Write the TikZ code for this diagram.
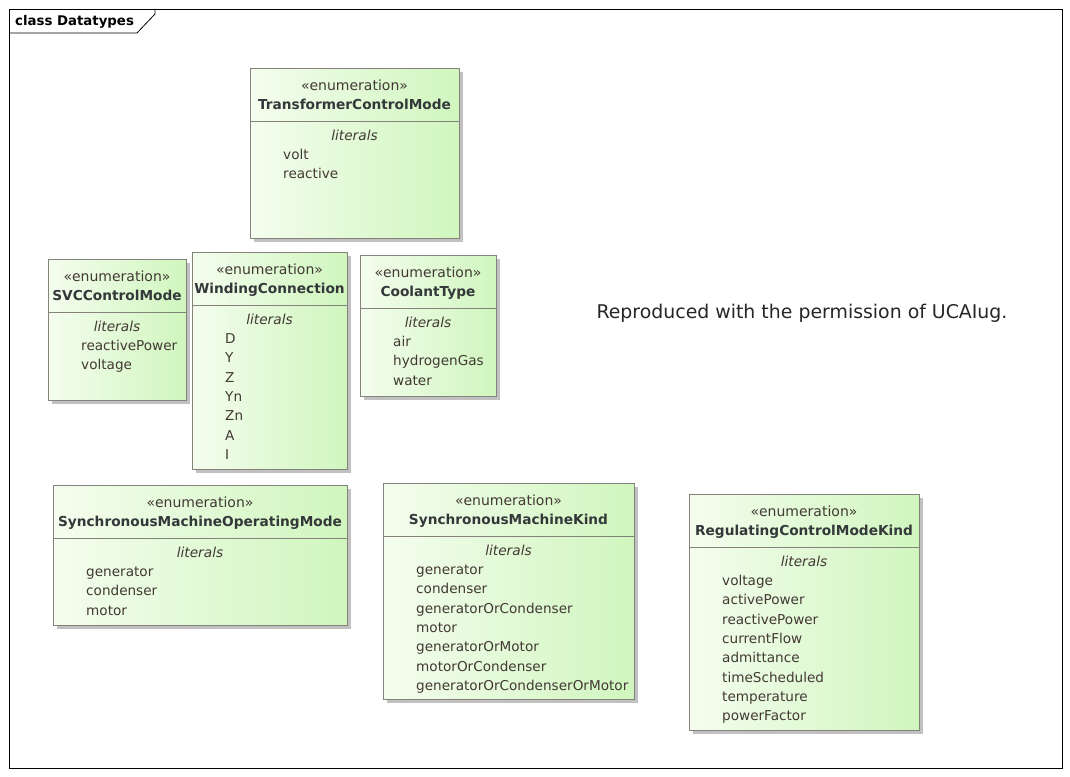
\documentclass[tikz,border=0pt]{standalone}
\usepackage{fontspec}
\setmainfont{DejaVu Sans}
\usepackage{xcolor}
\usepackage{tikz}
\usetikzlibrary{shadows}

\definecolor{umlleft}{RGB}{244,253,238}
\definecolor{umlright}{RGB}{208,246,190}
\definecolor{umlborder}{RGB}{132,130,122}
\definecolor{umltext}{RGB}{66,56,52}
\definecolor{umlname}{RGB}{52,56,58}

\tikzset{
  enumbox/.style={draw=umlborder, line width=0.8pt, left color=umlleft, right color=umlright,
    anchor=north west, inner sep=0pt, outer sep=0pt,
    drop shadow={shadow xshift=3.5pt, shadow yshift=-3.5pt, fill=black!30, opacity=0.8}},
  stereo/.style={text=umltext, inner sep=0pt, anchor=base, font=\fontsize{14}{16}\selectfont},
  enumname/.style={text=umlname, inner sep=0pt, anchor=base, font=\fontsize{13.7}{16}\selectfont\bfseries},
  litlabel/.style={text=umltext, inner sep=0pt, anchor=base, font=\fontsize{13.7}{16}\selectfont\itshape},
  literal/.style={text=umltext, inner sep=0pt, anchor=base west, font=\fontsize{13.6}{16}\selectfont},
}

% one enumeration class: name, top-left corner, width, height, title, literals
\newcommand{\enumclass}[6]{%
  \node[enumbox, minimum width=#3, minimum height=#4] (#1) at #2 {};
  \draw[umlborder, line width=0.8pt] ([yshift=-53pt]#1.north west) -- ([yshift=-53pt]#1.north east);
  \node[stereo] (#1-st) at ([yshift=-22pt]#1.north) {«enumeration»};
  \node[enumname] (#1-nm) at ([yshift=-41pt]#1.north) {#5};
  \node[litlabel] (#1-lt) at ([yshift=-72pt]#1.north) {literals};
  \foreach \lit [count=\i from 0] in {#6}
    \node[literal] (#1-\i) at ([xshift=33pt, yshift={-91.5pt-19.3pt*\i}]#1.north west) {\lit};
}

\begin{document}
\begin{tikzpicture}[x=1pt, y=-1pt]
  \useasboundingbox[fill=white] (0,0) rectangle (1070,776);
  % diagram frame
  \draw[line width=0.8pt] (9,9) rectangle (1062,768);
  \draw[line width=0.8pt] (9,33) -- (137,33) -- (155,14) -- (155,9);
  \node[anchor=base west, inner sep=0pt, font=\fontsize{13.3}{16}\selectfont\bfseries] (frametitle) at (15,26) {class Datatypes};

  % enumerations
  \enumclass{tcm}{(250,68)}{209pt}{170pt}{TransformerControlMode}{volt, reactive}
  \enumclass{svc}{(48,259)}{138pt}{141pt}{SVCControlMode}{reactivePower, voltage}
  \enumclass{wc}{(192,252)}{155pt}{217pt}{WindingConnection}{D, Y, Z, Yn, Zn, A, I}
  \enumclass{ct}{(360,255)}{136pt}{141pt}{CoolantType}{air, hydrogenGas, water}
  \enumclass{smom}{(53,485)}{294pt}{140pt}{SynchronousMachineOperatingMode}{generator, condenser, motor}
  \enumclass{smk}{(383,483)}{251pt}{216pt}{SynchronousMachineKind}{generator, condenser, generatorOrCondenser, motor, generatorOrMotor, motorOrCondenser, generatorOrCondenserOrMotor}
  \enumclass{rcmk}{(689,494)}{230pt}{236pt}{RegulatingControlModeKind}{voltage, activePower, reactivePower, currentFlow, admittance, timeScheduled, temperature, powerFactor}

  % permission note
  \node[anchor=base, inner sep=0pt, font=\fontsize{18.9}{22}\selectfont, text=black!85] (note) at (802,318) {Reproduced with the permission of UCAIug.};
\end{tikzpicture}
\end{document}
